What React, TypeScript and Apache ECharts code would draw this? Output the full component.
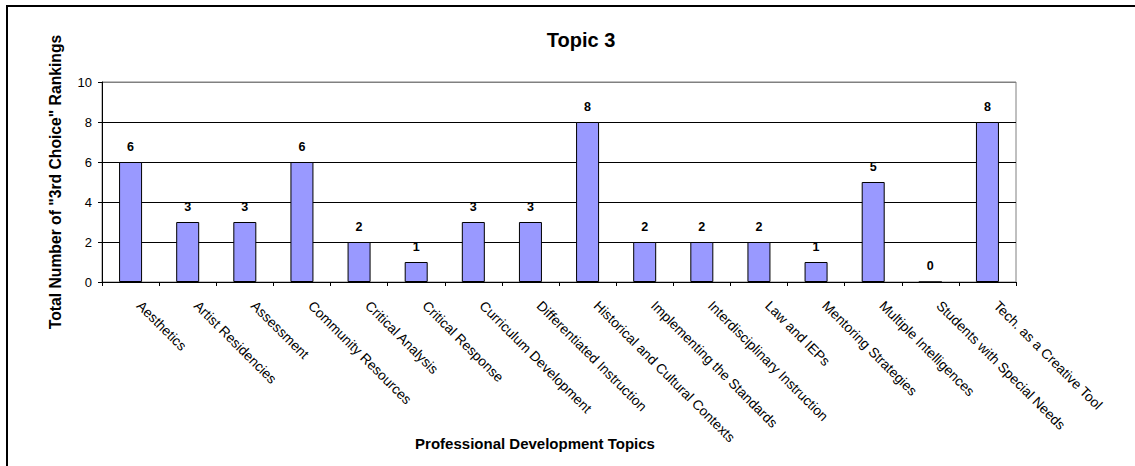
import React, { useEffect, useRef } from "react";
import * as echarts from "echarts";

const categories = [
  "Aesthetics",
  "Artist Residencies",
  "Assessment",
  "Community Resources",
  "Critical Analysis",
  "Critical Response",
  "Curriculum Development",
  "Differentiated Instruction",
  "Historical and Cultural Contexts",
  "Implementing the Standards",
  "Interdisciplinary Instruction",
  "Law and IEPs",
  "Mentoring Strategies",
  "Multiple Intelligences",
  "Students with Special Needs",
  "Tech. as a Creative Tool",
];
const values = [6, 3, 3, 6, 2, 1, 3, 3, 8, 2, 2, 2, 1, 5, 0, 8];
const titleText = "Topic 3";
const yAxisTitle = 'Total Number of "3rd Choice" Rankings';
const xAxisTitle = "Professional Development Topics";
const yMin = 0;
const yMax = 10;
const yInterval = 2;

const FONT = 'Arial, "Liberation Sans", sans-serif';

export default function App() {
  const ref = useRef<HTMLDivElement>(null);
  useEffect(() => {
    if (!ref.current) return;
    const chart = echarts.init(ref.current, null, { renderer: "svg" });
    chart.setOption({
      animation: false,
      backgroundColor: "#ffffff",
      textStyle: { fontFamily: FONT },
      title: [
        {
          text: titleText,
          left: 576,
          top: 25,
          textAlign: "center",
          textStyle: { fontFamily: FONT, fontSize: 20, fontWeight: "bold", color: "#000" },
        },
        {
          text: xAxisTitle,
          left: 530,
          top: 431,
          textAlign: "center",
          textStyle: { fontFamily: FONT, fontSize: 15, fontWeight: "bold", color: "#000" },
        },
      ],
      graphic: [
        {
          type: "rect",
          shape: { x: 7, y: 6, width: 1200, height: 600 },
          style: { fill: "none", stroke: "#000", lineWidth: 2 },
          silent: true,
        },
      ],
      grid: {
        left: 102,
        top: 82,
        right: 119,
        bottom: 184,
        show: true,
        borderColor: "#808080",
        borderWidth: 1,
        backgroundColor: "transparent",
      },
      xAxis: {
        type: "category",
        data: categories,
        axisLine: { show: true, lineStyle: { color: "#000", width: 1 } },
        axisTick: { show: true, length: 4, lineStyle: { color: "#000" } },
        axisLabel: {
          interval: 0,
          rotate: -45,
          margin: 13,
          padding: [0, 0, 0, 12],
          fontFamily: FONT,
          fontSize: 13.8,
          color: "#000",
        },
        splitLine: { show: false },
      },
      yAxis: {
        type: "value",
        min: yMin,
        max: yMax,
        interval: yInterval,
        name: yAxisTitle,
        nameLocation: "middle",
        nameRotate: 90,
        nameGap: 39,
        nameTextStyle: { fontFamily: FONT, fontSize: 15.7, fontWeight: "bold", color: "#000" },
        axisLine: { show: true, lineStyle: { color: "#000", width: 1 } },
        axisTick: { show: true, length: 4, lineStyle: { color: "#000" } },
        axisLabel: { margin: 10, fontFamily: FONT, fontSize: 13, color: "#000" },
        splitLine: {
          show: true,
          lineStyle: {
            color: ["#000", "#000", "#000", "#000", "#000", "#808080"],
            width: 1,
          },
        },
      },
      series: [
        {
          type: "bar",
          data: values,
          barWidth: 23,
          itemStyle: { color: "#9999FF", borderColor: "#000", borderWidth: 1 },
          label: {
            show: true,
            position: "top",
            distance: 9,
            fontFamily: FONT,
            fontSize: 12.5,
            fontWeight: "bold",
            color: "#000",
          },
        },
      ],
    });
    return () => chart.dispose();
  }, []);
  return (
    <div
      ref={ref}
      style={{ position: "absolute", left: 0, top: 0, width: 1135, height: 466 }}
    />
  );
}
